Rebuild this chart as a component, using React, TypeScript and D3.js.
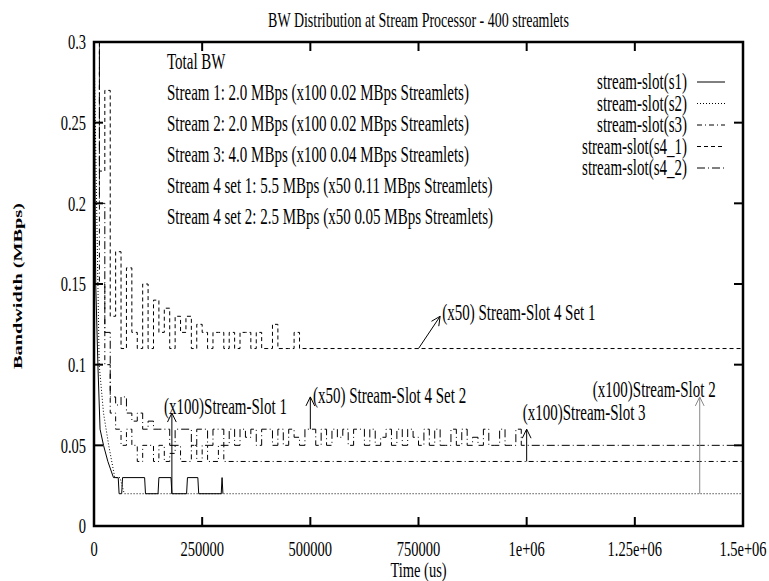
import React from "react";
import * as d3 from "d3";

const W = 769;
const H = 581;
const PLOT = { left: 94, right: 743, top: 42, bottom: 526 };
const SY = 1.5; // the reference's glyphs are stretched vertically
const FONT = "'Liberation Serif', 'Times New Roman', serif";

const X_MAX = 1.5e6;
const Y_MAX = 0.3;
const X_TICKS = [0, 250000, 500000, 750000, 1000000, 1250000, 1500000];
const X_TICK_LABELS = ["0", "250000", "500000", "750000", "1e+06", "1.25e+06", "1.5e+06"];
const Y_TICKS = [0, 0.05, 0.1, 0.15, 0.2, 0.25, 0.3];
const Y_TICK_LABELS = ["0", "0.05", "0.1", "0.15", "0.2", "0.25", "0.3"];

// sampling step of the noisy start of each run (us)
const STEP = 12500;

// stream-slot(s1): [time, MBps]
const s1Points: [number, number][] = [
  [0, 0.3], [4000, 0.15], [9000, 0.1], [14000, 0.06], [22000, 0.05], [32000, 0.04],
  [45000, 0.03], [56000, 0.03], [58000, 0.02], [64000, 0.02], [66000, 0.03],
  [117000, 0.03], [119000, 0.02], [148000, 0.02], [150000, 0.03], [178000, 0.03],
  [180000, 0.02], [214000, 0.02], [216000, 0.03], [240000, 0.03], [242000, 0.02],
  [294000, 0.02], [296000, 0.03], [298000, 0.02],
];

// stream-slot(s2): [time, MBps]
const s2Points: [number, number][] = [
  [0, 0.3], [6000, 0.2], [12000, 0.1], [22000, 0.07], [34000, 0.05], [48000, 0.03],
  [60000, 0.03], [70000, 0.02], [1500000, 0.02],
];

// stream-slot(s3): one value per STEP, then flat
const s3Vals = [
  0.3, 0.15, 0.1, 0.07, 0.06, 0.05, 0.06, 0.05, 0.04, 0.05, 0.05, 0.04, 0.05,
  0.04, 0.045, 0.05, 0.04, 0.04, 0.05, 0.04, 0.05, 0.04, 0.04, 0.05, 0.04,
];
const s3Final = 0.04;

// stream-slot(s4_1)
const s41Vals = [
  0.3, 0.22, 0.27, 0.13, 0.17, 0.11, 0.16, 0.12, 0.11, 0.15, 0.11, 0.14, 0.12,
  0.135, 0.11, 0.13, 0.12, 0.13, 0.11, 0.125, 0.12, 0.11, 0.12, 0.12, 0.11,
  0.12, 0.11, 0.12, 0.12, 0.11, 0.12, 0.11, 0.11, 0.125, 0.11, 0.11, 0.11,
  0.12, 0.11,
];
const s41Final = 0.11;

// stream-slot(s4_2)
const s42Vals = [
  0.3, 0.2, 0.12, 0.08, 0.075, 0.08, 0.07, 0.065, 0.07, 0.06, 0.065, 0.06,
  0.06, 0.06, 0.05, 0.06, 0.06, 0.06, 0.05, 0.06, 0.06, 0.05, 0.06, 0.06,
  0.05, 0.06, 0.05, 0.06, 0.055, 0.06, 0.05, 0.06, 0.06, 0.05, 0.06, 0.05,
  0.06, 0.055, 0.05, 0.06, 0.06, 0.05, 0.06, 0.05, 0.06, 0.055, 0.06, 0.05,
  0.06, 0.06, 0.05, 0.06, 0.05, 0.055, 0.06, 0.05, 0.06, 0.05, 0.06, 0.055,
  0.05, 0.06, 0.05, 0.06, 0.05, 0.05, 0.06, 0.05, 0.06, 0.05, 0.055, 0.05,
  0.06, 0.05, 0.05, 0.06, 0.05, 0.05, 0.06, 0.05, 0.05,
];
const s42Final = 0.05;

const LEGEND = ["stream-slot(s1)", "stream-slot(s2)", "stream-slot(s3)", "stream-slot(s4_1)", "stream-slot(s4_2)"];
const DASHES = ["none", "1,2", "5,3,1,3", "4,3", "8,3,1,3"];

const INFO_LINES = [
  "Total BW",
  "Stream 1: 2.0 MBps (x100 0.02 MBps Streamlets)",
  "Stream 2: 2.0 MBps (x100 0.02 MBps Streamlets)",
  "Stream 3: 4.0 MBps (x100 0.04 MBps Streamlets)",
  "Stream 4 set 1: 5.5 MBps (x50 0.11 MBps Streamlets)",
  "Stream 4 set 2: 2.5 MBps (x50 0.05 MBps Streamlets)",
];

// annotations: arrow from (t0,v0) to (t1,v1), label left-aligned centred at (lt, lv)
const ARROWS = [
  { t0: 750000, v0: 0.11, t1: 800000, v1: 0.13, lt: 805000, lv: 0.1325, text: "(x50) Stream-Slot 4 Set 1", color: "#000" },
  { t0: 180000, v0: 0.02, t1: 180000, v1: 0.07, lt: 162000, lv: 0.0738, text: "(x100)Stream-Slot 1", color: "#000" },
  { t0: 500000, v0: 0.06, t1: 500000, v1: 0.08, lt: 506000, lv: 0.0806, text: "(x50) Stream-Slot 4 Set 2", color: "#000" },
  { t0: 1000000, v0: 0.04, t1: 1000000, v1: 0.06, lt: 991000, lv: 0.07, text: "(x100)Stream-Slot 3", color: "#000" },
  { t0: 1400000, v0: 0.02, t1: 1400000, v1: 0.08, lt: 1153000, lv: 0.0843, text: "(x100)Stream-Slot 2", color: "#888" },
];

function stepped(vals: number[], final: number): [number, number][] {
  const pts: [number, number][] = vals.map((v, i) => [i * STEP, v]);
  pts.push([X_MAX, final]);
  return pts;
}

function Txt({ x, y, anchor = "start", size = 14.5, weight = "normal", children }: any) {
  return (
    <text
      transform={`translate(${x},${y}) scale(1,${SY})`}
      textAnchor={anchor}
      fontSize={size}
      fontWeight={weight}
      fontFamily={FONT}
      fill="#000"
    >
      {children}
    </text>
  );
}

export default function App() {
  const x = d3.scaleLinear().domain([0, X_MAX]).range([PLOT.left, PLOT.right]);
  const y = d3.scaleLinear().domain([0, Y_MAX]).range([PLOT.bottom, PLOT.top]);
  const line = d3
    .line<[number, number]>()
    .x((d) => x(d[0]))
    .y((d) => y(d[1]));
  const stepLine = d3
    .line<[number, number]>()
    .x((d) => x(d[0]))
    .y((d) => y(d[1]))
    .curve(d3.curveStepAfter);

  const paths = [
    line(s1Points),
    line(s2Points),
    stepLine(stepped(s3Vals, s3Final)),
    stepLine(stepped(s41Vals, s41Final)),
    stepLine(stepped(s42Vals, s42Final)),
  ];

  const tickLen = 9;
  const headLen = 10;
  const headAng = (26 * Math.PI) / 180;

  return (
    <svg
      width={W}
      height={H}
      style={{ position: "absolute", left: 0, top: 0, background: "#fff" }}
    >
      <rect width={W} height={H} fill="#fff" />
      <defs>
        <clipPath id="plot-clip">
          <rect x={PLOT.left} y={PLOT.top} width={PLOT.right - PLOT.left} height={PLOT.bottom - PLOT.top} />
        </clipPath>
      </defs>

      {/* Title */}
      <Txt x={(PLOT.left + PLOT.right) / 2} y={27} anchor="middle" size={14}>
        BW Distribution at Stream Processor - 400 streamlets
      </Txt>

      {/* Series */}
      <g clipPath="url(#plot-clip)" fill="none" stroke="#000" strokeWidth={1}>
        {paths.map((d, i) => (
          <path key={i} d={d || ""} strokeDasharray={DASHES[i]} />
        ))}
      </g>

      {/* Ticks, all four sides, inward */}
      <g stroke="#000" strokeWidth={2}>
        {X_TICKS.map((t) => (
          <g key={"x" + t}>
            <line x1={x(t)} x2={x(t)} y1={PLOT.bottom} y2={PLOT.bottom - tickLen} />
            <line x1={x(t)} x2={x(t)} y1={PLOT.top} y2={PLOT.top + tickLen} />
          </g>
        ))}
        {Y_TICKS.map((v) => (
          <g key={"y" + v}>
            <line x1={PLOT.left} x2={PLOT.left + tickLen} y1={y(v)} y2={y(v)} />
            <line x1={PLOT.right} x2={PLOT.right - tickLen} y1={y(v)} y2={y(v)} />
          </g>
        ))}
      </g>

      {/* Frame */}
      <rect
        x={PLOT.left}
        y={PLOT.top}
        width={PLOT.right - PLOT.left}
        height={PLOT.bottom - PLOT.top}
        fill="none"
        stroke="#000"
        strokeWidth={2.5}
      />

      {/* Tick labels */}
      {X_TICKS.map((t, i) => (
        <Txt key={"xl" + t} x={x(t)} y={556} anchor="middle">
          {X_TICK_LABELS[i]}
        </Txt>
      ))}
      {Y_TICKS.map((v, i) => (
        <Txt key={"yl" + v} x={86} y={y(v) + 7.3} anchor="end">
          {Y_TICK_LABELS[i]}
        </Txt>
      ))}

      {/* Axis labels */}
      <Txt x={(PLOT.left + PLOT.right) / 2} y={577} anchor="middle">
        Time (us)
      </Txt>
      <text
        transform={`translate(22,286) scale(1,${SY}) rotate(-90)`}
        textAnchor="middle"
        fontSize={13.5}
        fontWeight="bold"
        fontFamily={FONT}
      >
        Bandwidth (MBps)
      </text>

      {/* Info block */}
      {INFO_LINES.map((s, i) => (
        <Txt key={s} x={167} y={62 + i * 31 + 7} anchor="start" size={15}>
          {s}
        </Txt>
      ))}

      {/* Legend */}
      {LEGEND.map((s, i) => {
        const cy = 82 + i * 21.5;
        return (
          <g key={s}>
            <Txt x={687} y={cy + 7} anchor="end" size={15}>
              {s}
            </Txt>
            <line x1={697} x2={725} y1={cy} y2={cy} stroke="#000" strokeWidth={1} strokeDasharray={DASHES[i]} />
          </g>
        );
      })}

      {/* Annotations */}
      {ARROWS.map((a) => {
        const x0 = x(a.t0), y0 = y(a.v0), x1 = x(a.t1), y1 = y(a.v1);
        const ang = Math.atan2(y1 - y0, x1 - x0);
        const h1 = [x1 - headLen * Math.cos(ang - headAng), y1 - headLen * Math.sin(ang - headAng)];
        const h2 = [x1 - headLen * Math.cos(ang + headAng), y1 - headLen * Math.sin(ang + headAng)];
        return (
          <g key={a.text}>
            <g stroke={a.color} strokeWidth={1} fill="none">
              <line x1={x0} y1={y0} x2={x1} y2={y1} />
              <polyline points={`${h1[0]},${h1[1]} ${x1},${y1} ${h2[0]},${h2[1]}`} />
            </g>
            <Txt x={x(a.lt)} y={y(a.lv) + 7.3} anchor="start" size={15}>
              {a.text}
            </Txt>
          </g>
        );
      })}
    </svg>
  );
}
